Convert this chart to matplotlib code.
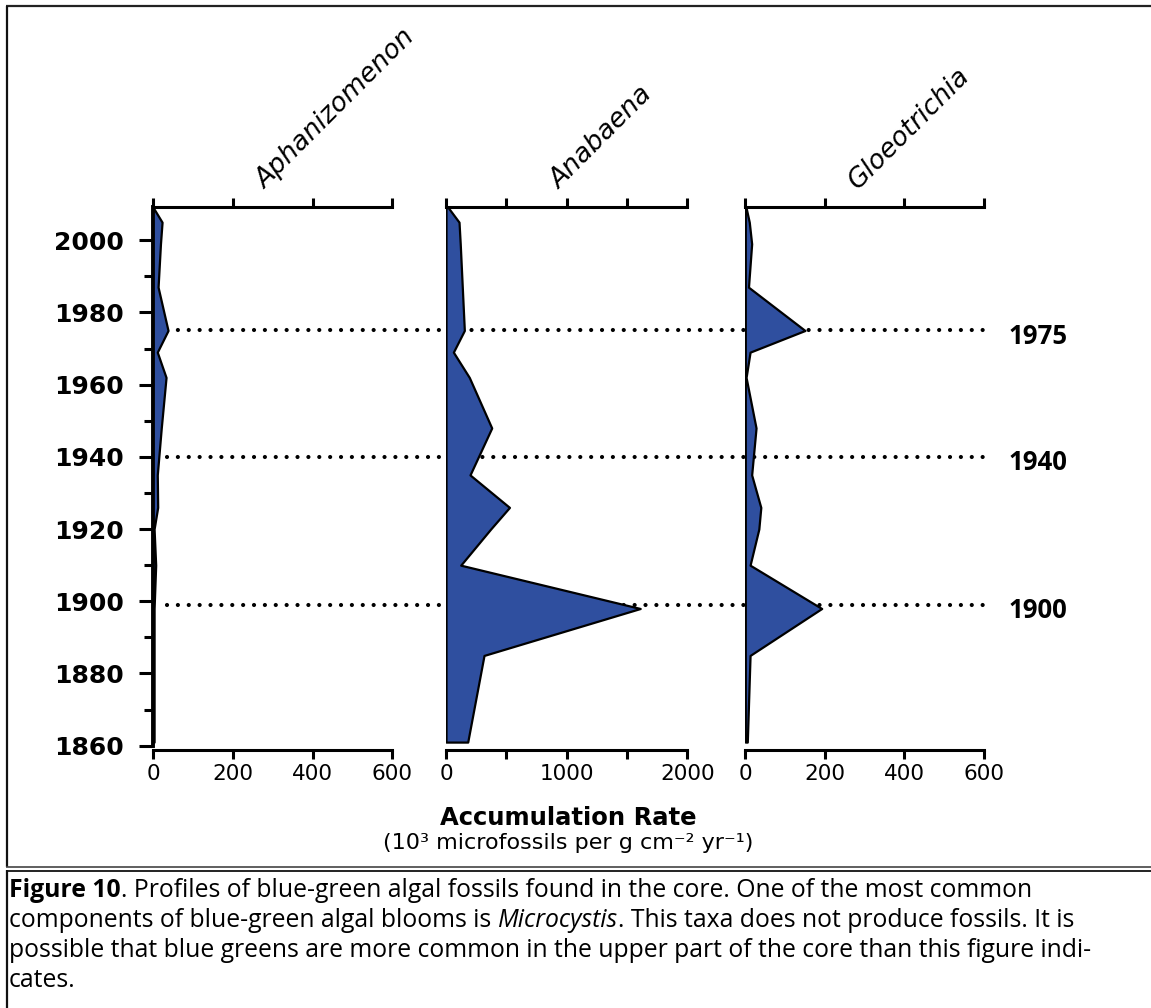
import matplotlib
matplotlib.use("Agg")
import matplotlib.pyplot as plt
from matplotlib.ticker import MultipleLocator, FixedLocator, FixedFormatter

# sample years shared by the three profiles
years = [2009, 2005, 1999, 1987, 1975, 1969, 1962, 1948, 1935, 1926, 1920, 1910, 1898, 1885, 1861]
aphanizomenon = [0, 22, 18, 12, 37, 10, 32, 20, 10, 11, 2, 6, 2, 2, 2]
anabaena = [19, 108, 118, 135, 152, 61, 193, 379, 199, 526, 370, 122, 1610, 315, 180]
gloeotrichia = [2, 10, 16, 8, 150, 12, 2, 27, 16, 39, 34, 12, 192, 12, 5]

taxa = ["Aphanizomenon", "Anabaena", "Gloeotrichia"]
profiles = [aphanizomenon, anabaena, gloeotrichia]
x_max = [600, 2000, 600]
x_ticks = [[0, 200, 400, 600], [0, 500, 1000, 1500, 2000], [0, 200, 400, 600]]
x_labels = [["0", "200", "400", "600"], ["0", "", "1000", "", "2000"], ["0", "200", "400", "600"]]

marker_years = [1975, 1940, 1899]
marker_labels = ["1975", "1940", "1900"]

BLUE = "#2f4f9f"
W, H = 1151, 1008
Y0, Y1 = 1860, 2009.2

fig = plt.figure(figsize=(W / 100, H / 100), dpi=100)


def px_rect(x0, x1, y0, y1):
    # pixel box (top-left origin) -> figure fraction rect
    return [x0 / W, 1 - y1 / H, (x1 - x0) / W, (y1 - y0) / H]


# background layer: frame lines and caption
bg = fig.add_axes([0, 0, 1, 1], zorder=0)
bg.set_xlim(0, W)
bg.set_ylim(H, 0)
bg.axis("off")
bg.plot([6, W], [6, 6], color="#222222", lw=1.6, solid_capstyle="butt")
bg.plot([7, 7], [6, 867], color="#111111", lw=1.6, solid_capstyle="butt")
bg.plot([6, W], [866.5, 866.5], color="#444444", lw=1.2, solid_capstyle="butt")
bg.plot([6, W], [870.5, 870.5], color="#222222", lw=1.4, solid_capstyle="butt")
bg.plot([7, 7], [870, H], color="#111111", lw=1.6, solid_capstyle="butt")

bg.text(568, 818, "Accumulation Rate", ha="center", va="center",
        fontsize=17.5, fontweight="bold")
bg.text(568, 843, "(10³ microfossils per g cm⁻² yr⁻¹)", ha="center",
        va="center", fontsize=16)

cap_font = "Open Sans"
cap_size = 17.8
caption = [
    [("Figure 10", "bold", "normal"),
     (". Profiles of blue-green algal fossils found in the core. One of the most common", "normal", "normal")],
    [("components of blue-green algal blooms is ", "normal", "normal"), ("Microcystis", "normal", "italic"),
     (". This taxa does not produce fossils. It is", "normal", "normal")],
    [("possible that blue greens are more common in the upper part of the core than this figure indi-",
      "normal", "normal")],
    [("cates.", "normal", "normal")],
]
base_y = [897, 927, 957, 987]
for line, by in zip(caption, base_y):
    prev = None
    for txt, weight, style in line:
        if prev is None:
            prev = bg.text(9, by, txt, ha="left", va="baseline", family=cap_font,
                           fontsize=cap_size, fontweight=weight, style=style)
        else:
            prev = bg.annotate(txt, xy=(1, 0), xycoords=prev, ha="left", va="bottom",
                               family=cap_font, fontsize=cap_size, fontweight=weight, style=style)

# dotted horizon lines across all panels
dots = fig.add_axes(px_rect(0, W, 207, 745.7), zorder=1)
dots.set_xlim(0, W)
dots.set_ylim(Y0, Y1)
dots.axis("off")
for yr, lab in zip(marker_years, marker_labels):
    dots.plot([167, 993], [yr, yr], color="black", lw=3.0, linestyle=(0, (0.01, 2.6)),
              dash_capstyle="round")
    dots.annotate(lab, xy=(1009, yr), xytext=(0, -4), textcoords="offset points",
                  ha="left", va="center", fontsize=18.5, fontweight="bold", family="Open Sans")

# the three profile panels
panel_px = [(153.3, 392.3), (446.0, 687.3), (745.3, 984.0)]
for i, (name, vals) in enumerate(zip(taxa, profiles)):
    x0, x1 = panel_px[i]
    ax = fig.add_axes(px_rect(x0, x1, 207, 745.7), zorder=2)
    ax.set_facecolor("none")
    ax.fill_betweenx(years, 0, vals, facecolor=BLUE, edgecolor="black", lw=1.6, zorder=3)
    ax.set_xlim(0, x_max[i])
    ax.set_ylim(Y0, Y1)

    ax.spines["right"].set_visible(False)
    ax.spines["top"].set_linewidth(2.2)
    ax.spines["bottom"].set_linewidth(2.2)
    ax.spines["bottom"].set_position(("outward", 3))
    ax.xaxis.set_major_locator(FixedLocator(x_ticks[i]))
    ax.xaxis.set_major_formatter(FixedFormatter(x_labels[i]))
    ax.tick_params(axis="x", which="major", top=True, bottom=True, labeltop=False,
                   direction="out", length=6.5, width=2.2, labelsize=15.5, pad=4)

    if i == 0:
        ax.spines["left"].set_linewidth(2.8)
        ax.yaxis.set_major_locator(MultipleLocator(20))
        ax.yaxis.set_minor_locator(MultipleLocator(10))
        ax.tick_params(axis="y", which="major", direction="out", length=10, width=2.2,
                       labelsize=18, pad=11)
        ax.tick_params(axis="y", which="minor", direction="out", length=6.5, width=2.2)
        for t in ax.get_yticklabels():
            t.set_fontweight("bold")
    else:
        ax.spines["left"].set_visible(False)
        ax.yaxis.set_visible(False)

    ax.text(0.47, 1.032, name, transform=ax.transAxes, rotation=45, rotation_mode="anchor",
            ha="left", va="baseline", fontsize=19, style="italic")

fig.savefig("out.png", dpi=100)
